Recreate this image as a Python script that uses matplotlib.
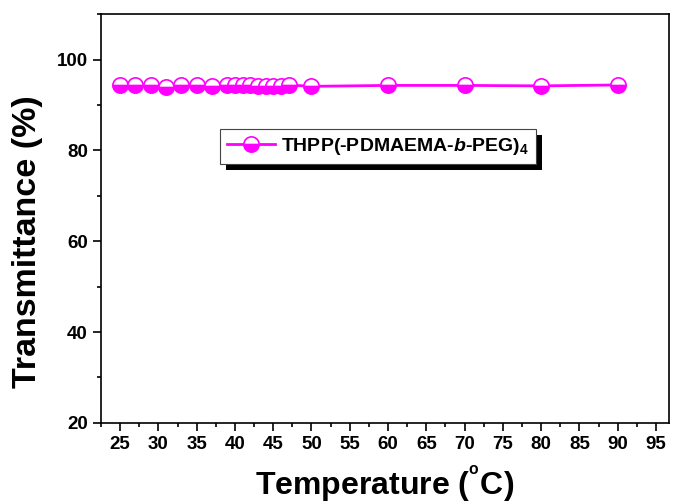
import matplotlib
matplotlib.use("Agg")
import matplotlib.pyplot as plt
from matplotlib.patches import Rectangle
from matplotlib.ticker import MultipleLocator

plt.rcParams['font.family'] = ['Liberation Sans', 'DejaVu Sans']
plt.rcParams['font.weight'] = 'bold'
plt.rcParams['mathtext.fontset'] = 'custom'
plt.rcParams['mathtext.rm'] = 'Liberation Sans:bold'
plt.rcParams['mathtext.it'] = 'Liberation Sans:bold:italic'
plt.rcParams['mathtext.bf'] = 'Liberation Sans:bold'

temperature = [25, 27, 29, 31, 33, 35, 37, 39, 40, 41, 42, 43, 44, 45, 46, 47, 50, 60, 70, 80, 90]
transmittance = [94.3, 94.5, 94.4, 94.0, 94.5, 94.4, 94.1, 94.5, 94.5, 94.4, 94.4, 94.2,
                 94.1, 94.1, 94.2, 94.4, 94.1, 94.3, 94.3, 94.2, 94.4]
series_label = r'THPP(-PDMAEMA-$\mathit{b}$-PEG)$_{4}$'
xticks = list(range(25, 100, 5))
yticks = [20, 40, 60, 80, 100]

fig = plt.figure(figsize=(6.73, 5.04), dpi=100)
ax = fig.add_axes([0.150, 0.161, 0.844, 0.811])

ax.plot(temperature, transmittance, color='#ff00ff', lw=2, marker='o', ms=11,
        fillstyle='bottom', markerfacecolor='#ff00ff', markerfacecoloralt='white',
        markeredgecolor='#ff00ff', markeredgewidth=1.2, label=series_label)

ax.set_xlim(22.5, 96.7)
ax.set_ylim(20, 110)
ax.set_xticks(xticks)
ax.set_yticks(yticks)
ax.xaxis.set_minor_locator(MultipleLocator(2.5))
ax.yaxis.set_minor_locator(MultipleLocator(10))
ax.tick_params(which='both', direction='out', width=1.2)
ax.tick_params(which='major', length=6, labelsize=13.5)
ax.tick_params(which='minor', length=3)
for s in ax.spines.values():
    s.set_linewidth(1.2)

ax.set_xlabel(r'Temperature ($^{^{\mathrm{o}}}$C)', fontsize=23, fontweight='bold', labelpad=7)
ax.set_ylabel('Transmittance (%)', fontsize=24.5, fontweight='bold')
ax.yaxis.set_label_coords(-0.102, 0.443)

leg = ax.legend(loc='upper left', bbox_to_anchor=(0.2095, 0.719), borderaxespad=0,
                fancybox=False, framealpha=1, edgecolor='#444444', handlelength=2.5,
                handletextpad=0.3, borderpad=0.35, prop={'weight': 'bold', 'size': 14})
leg.get_frame().set_linewidth(0.8)
leg.set_zorder(5)

fig.canvas.draw()
bb = leg.get_window_extent()
ax.add_patch(Rectangle((bb.x0 + 6, bb.y0 - 6), bb.width, bb.height, transform=None,
                       facecolor='black', edgecolor='none', zorder=4, clip_on=False))

fig.savefig('out.png', dpi=100)
